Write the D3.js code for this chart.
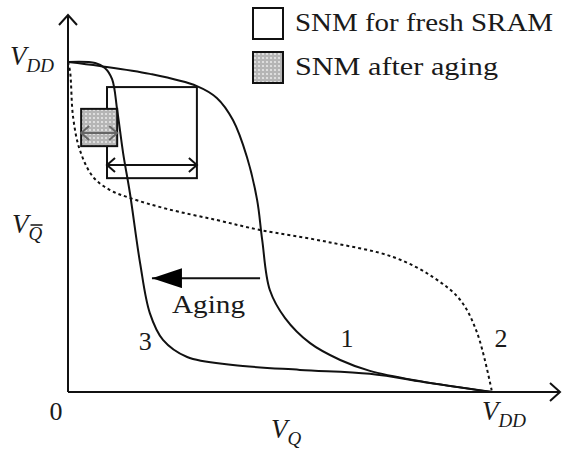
<!DOCTYPE html>
<meta charset="utf-8">
<script src="https://d3js.org/d3.v7.min.js"></script>
<style>
body { margin: 0; background: white; }
text { font-family: "Liberation Serif", "Times New Roman", Times, serif; fill: #1a1a1a; }
.math { font-style: italic; }
.curve { fill: none; stroke: #111; stroke-width: 2px; }
#curve2 { stroke-dasharray: 3,3; }
</style>
<body>
<div id="p1"></div>
<script>
// transfer curves, in units of VDD (x = VQ, y = VQbar)
var curve1 = [[0,1],[0.075,0.988],[0.193,0.964],[0.304,0.927],[0.351,0.891],[0.389,0.824],
  [0.422,0.712],[0.446,0.582],[0.458,0.461],[0.476,0.309],[0.512,0.224],[0.571,0.148],
  [0.642,0.097],[0.712,0.064],[0.830,0.033],[1,0]]
var curve2 = [[0,1],[0.005,0.970],[0.012,0.833],[0.028,0.733],[0.059,0.652],[0.099,0.612],
  [0.146,0.588],[0.233,0.555],[0.351,0.521],[0.453,0.491],[0.611,0.455],[0.767,0.409],
  [0.861,0.348],[0.925,0.279],[0.965,0.179],[1,0]]
var curve3 = [[0,1],[0.064,0.997],[0.087,0.982],[0.104,0.948],[0.116,0.855],[0.130,0.724],
  [0.146,0.603],[0.170,0.391],[0.193,0.239],[0.224,0.158],[0.281,0.106],[0.389,0.082],
  [0.547,0.067],[0.712,0.055],[0.854,0.027],[1,0]]

// SNM squares [x0, x1, yBottom, yTop, yArrow]
var snmFresh = [0.092, 0.304, 0.648, 0.924, 0.688]
var snmAged = [0.031, 0.116, 0.745, 0.858, 0.785]

// aging arrow [xFrom, xTo, y]
var agingArrow = [0.453, 0.198, 0.345]

var curveLabels = [{t:"1", x:0.658, y:0.136}, {t:"2", x:1.021, y:0.136}, {t:"3", x:0.182, y:0.127}]
var legendLabels = ["SNM for fresh SRAM", "SNM after aging"]

width = 563
height = 452
origin = {x: 68, y: 392}
vdd = {x: 492, y: 62}

svg = d3.select("#p1").append("svg")
  .attr("width", width)
  .attr("height", height)

defs = svg.append("defs")
pat = defs.append("pattern")
  .attr("id", "dots")
  .attr("patternUnits", "userSpaceOnUse")
  .attr("width", 4).attr("height", 4)
pat.append("rect").attr("width", 4).attr("height", 4).attr("fill", "#b5b5b5")
pat.append("circle").attr("cx", 2).attr("cy", 2).attr("r", 1.1).attr("fill", "#e8e8e8")

mk = defs.append("marker")
  .attr("id", "tri")
  .attr("viewBox", "0 0 30 20")
  .attr("refX", 30).attr("refY", 10)
  .attr("markerUnits", "userSpaceOnUse")
  .attr("markerWidth", 30).attr("markerHeight", 20)
  .attr("orient", "auto")
mk.append("path").attr("d", "M0,0L30,10L0,20Z").attr("fill", "#000")

xScale = d3.scaleLinear().domain([0, 1]).range([origin.x, vdd.x])
yScale = d3.scaleLinear().domain([0, 1]).range([origin.y, vdd.y])

line = d3.line()
  .x(function(d){ return xScale(d[0]) })
  .y(function(d){ return yScale(d[1]) })
  .curve(d3.curveCatmullRom.alpha(0.5))

// axes with open arrow heads
axes = svg.append("g").attr("stroke", "#111").attr("stroke-width", 2).attr("fill", "none")
axes.append("path").attr("d", "M" + origin.x + "," + origin.y + "V15")
axes.append("path").attr("d", "M" + (origin.x - 9) + ",25L" + origin.x + ",15L" + (origin.x + 9) + ",25")
axes.append("path").attr("d", "M" + origin.x + "," + origin.y + "H560")
axes.append("path").attr("d", "M550,383L560," + origin.y + "L550,401")

// SNM squares
function snmBox(s, fill, arrowColor){
  g = svg.append("g")
  g.append("rect")
    .attr("x", xScale(s[0])).attr("y", yScale(s[3]))
    .attr("width", xScale(s[1]) - xScale(s[0]))
    .attr("height", yScale(s[2]) - yScale(s[3]))
    .attr("fill", fill).attr("stroke", "#111").attr("stroke-width", 2)
  ya = yScale(s[4]), xa = xScale(s[0]), xb = xScale(s[1])
  g.append("path")
    .attr("d", "M" + xa + "," + ya + "H" + xb +
      "M" + (xa + 8) + "," + (ya - 7) + "L" + xa + "," + ya + "L" + (xa + 8) + "," + (ya + 7) +
      "M" + (xb - 8) + "," + (ya - 7) + "L" + xb + "," + ya + "L" + (xb - 8) + "," + (ya + 7))
    .attr("fill", "none").attr("stroke", arrowColor).attr("stroke-width", 2)
}
snmBox(snmFresh, "none", "#111")
snmBox(snmAged, "url(#dots)", "#666")

// curves
svg.selectAll(".curve")
  .data([curve1, curve2, curve3])
  .enter().append("path")
  .attr("class", "curve")
  .attr("id", function(d, i){ return "curve" + (i + 1) })
  .attr("d", line)

// aging arrow
svg.append("line")
  .attr("x1", xScale(agingArrow[0])).attr("x2", xScale(agingArrow[1]))
  .attr("y1", yScale(agingArrow[2])).attr("y2", yScale(agingArrow[2]))
  .attr("stroke", "#111").attr("stroke-width", 2)
  .attr("marker-end", "url(#tri)")
svg.append("text").attr("x", 172).attr("y", 313)
  .attr("font-size", 26).attr("textLength", 73).attr("lengthAdjust", "spacingAndGlyphs")
  .text("Aging")

// curve numbers
svg.selectAll(".num")
  .data(curveLabels)
  .enter().append("text")
  .attr("class", "num")
  .attr("x", function(d){ return xScale(d.x) })
  .attr("y", function(d){ return yScale(d.y) })
  .attr("text-anchor", "middle")
  .attr("font-size", 26)
  .text(function(d){ return d.t })

// legend
legend = svg.selectAll(".leg")
  .data(legendLabels)
  .enter().append("g")
  .attr("class", "leg")
  .attr("transform", function(d, i){ return "translate(253," + (8 + i * 44) + ")" })
legend.append("rect")
  .attr("width", 30).attr("height", 31)
  .attr("fill", function(d, i){ return i ? "url(#dots)" : "white" })
  .attr("stroke", "#111").attr("stroke-width", 2)
legend.append("text")
  .attr("x", 42).attr("y", 23)
  .attr("font-size", 26)
  .attr("textLength", function(d, i){ return i ? 203 : 258 })
  .attr("lengthAdjust", "spacingAndGlyphs")
  .text(function(d){ return d })

// math labels
function mathLabel(x, y, main, sub, over){
  t = svg.append("text").attr("class", "math").attr("x", x).attr("y", y).attr("font-size", 27)
  t.append("tspan").text(main)
  s = t.append("tspan").attr("dy", 7).attr("dx", 0).attr("font-size", 19).text(sub)
  if (over) {
    bb = s.node().getBBox()
    svg.append("line")
      .attr("x1", bb.x + 2).attr("x2", bb.x + bb.width)
      .attr("y1", bb.y + 2).attr("y2", bb.y + 2)
      .attr("stroke", "#111").attr("stroke-width", 1.5)
  }
}
mathLabel(10, 65, "V", "DD", false)
mathLabel(12, 233, "V", "Q", true)
mathLabel(271, 438, "V", "Q", false)
mathLabel(482, 420, "V", "DD", false)

svg.append("text").attr("x", 56).attr("y", 420).attr("text-anchor", "middle")
  .attr("font-size", 26).text("0")
</script>
</body>
